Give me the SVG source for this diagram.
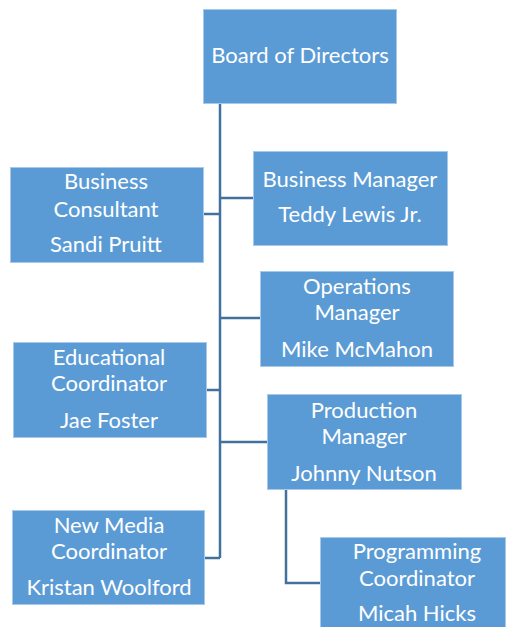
<svg xmlns="http://www.w3.org/2000/svg" width="506" height="627" viewBox="0 0 506 627">
<style>
.box{fill:#5B9BD5;stroke:#A9C9EA;stroke-width:1}
.t{font-family:Lato,"Open Sans","Liberation Sans",sans-serif;font-size:22px;fill:#FFFFFF;text-anchor:middle}
.c{fill:none;stroke:#41719C;stroke-width:2.5}
</style>
<rect width="506" height="627" fill="#FFFFFF"/>
<g id="connectors">
<path class="c" d="M220,103 V558"/>
<path class="c" d="M203,214 H220"/>
<path class="c" d="M220,198 H253"/>
<path class="c" d="M220,318 H260"/>
<path class="c" d="M207,390 H220"/>
<path class="c" d="M220,442 H267"/>
<path class="c" d="M204,558 H220"/>
<path class="c" d="M286,489 V583 H320"/>
</g>
<g id="board">
<rect class="box" x="203.5" y="9.5" width="193" height="94"/>
<text class="t" x="300" y="63">Board of Directors</text>
</g>
<g id="business-consultant">
<rect class="box" x="10.5" y="167.5" width="193" height="95"/>
<text class="t" x="106" y="189">Business</text>
<text class="t" x="106" y="217">Consultant</text>
<text class="t" x="106" y="252">Sandi Pruitt</text>
</g>
<g id="business-manager">
<rect class="box" x="253.5" y="151.5" width="194" height="94"/>
<text class="t" x="350" y="187">Business Manager</text>
<text class="t" x="350" y="222">Teddy Lewis Jr.</text>
</g>
<g id="operations-manager">
<rect class="box" x="260.5" y="271.5" width="193" height="95"/>
<text class="t" x="357" y="294">Operations</text>
<text class="t" x="357" y="320">Manager</text>
<text class="t" x="357" y="357">Mike McMahon</text>
</g>
<g id="educational-coordinator">
<rect class="box" x="13.5" y="342.5" width="193" height="95"/>
<text class="t" x="109" y="365">Educational</text>
<text class="t" x="109" y="391">Coordinator</text>
<text class="t" x="109" y="428">Jae Foster</text>
</g>
<g id="production-manager">
<rect class="box" x="267.5" y="394.5" width="194" height="95"/>
<text class="t" x="364" y="418">Production</text>
<text class="t" x="364" y="444">Manager</text>
<text class="t" x="364" y="481">Johnny Nutson</text>
</g>
<g id="new-media-coordinator">
<rect class="box" x="12.5" y="510.5" width="192" height="94"/>
<text class="t" x="109" y="533">New Media</text>
<text class="t" x="109" y="559">Coordinator</text>
<text class="t" x="109" y="595">Kristan Woolford</text>
</g>
<g id="programming-coordinator">
<rect class="box" x="320.5" y="537.5" width="185" height="95"/>
<text class="t" x="417" y="559">Programming</text>
<text class="t" x="417" y="586">Coordinator</text>
<text class="t" x="417" y="621">Micah Hicks</text>
</g>
</svg>
